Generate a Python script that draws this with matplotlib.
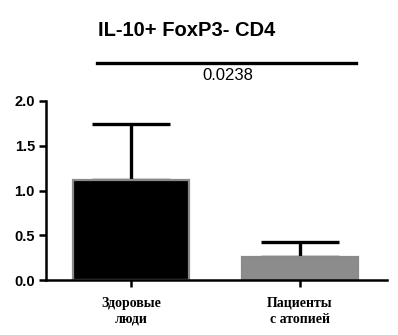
import matplotlib.pyplot as plt

groups = ["Здоровые\nлюди", "Пациенты\nс атопией"]
means = [1.12, 0.26]
errors_up = [0.62, 0.16]
bar_colors = ["#000000", "#8c8c8c"]
p_value = "0.0238"
title = "IL-10+ FoxP3- CD4"
yticks = [0.0, 0.5, 1.0, 1.5, 2.0]

fig = plt.figure(figsize=(3.98, 3.35), dpi=100)
ax = fig.add_axes([46 / 398, 55 / 335, 341 / 398, 179 / 335])

xs = list(range(len(groups)))
ax.bar(xs, means, width=0.686, color=bar_colors, edgecolor="#8a8a8a",
       linewidth=1.6, zorder=2)
ax.errorbar(xs, means, yerr=[[0, 0], errors_up], fmt="none", ecolor="black",
            elinewidth=2.4, capsize=28, capthick=2.4, zorder=1)

ax.set_xlim(-0.503, 1.515)
ax.set_ylim(0, 2.0)
ax.set_yticks(yticks)
ax.set_yticklabels([f"{v:.1f}" for v in yticks], fontsize=10.5, fontweight="bold",
                   family="Liberation Sans")
ax.set_xticks(xs)
ax.set_xticklabels(groups, fontsize=10, fontweight="bold", family="Liberation Serif",
                   linespacing=1.3)
for s in ["top", "right"]:
    ax.spines[s].set_visible(False)
for s in ["left", "bottom"]:
    ax.spines[s].set_linewidth(1.8)
ax.tick_params(axis="both", width=1.8, length=5, pad=3)
ax.tick_params(axis="x", pad=7)

# significance bracket
ax.plot([-0.2, 1.33], [2.43, 2.43], color="black", lw=2.4, clip_on=False)
ax.text(0.57, 2.29, p_value, ha="center", va="center", fontsize=12,
        family="Liberation Sans")
fig.text(187 / 398, 1 - 30 / 335, title, ha="center", va="center", fontsize=14.5,
         fontweight="bold", family="Liberation Sans")

fig.savefig("out.png", dpi=100)
